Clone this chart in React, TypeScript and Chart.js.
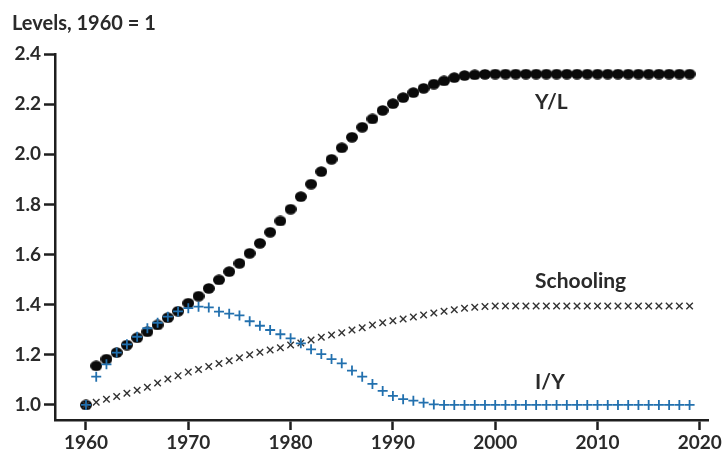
import React, { useEffect, useRef } from "react";
import { Chart, registerables } from "chart.js";

Chart.register(...registerables);

const years = [
  1960, 1961, 1962, 1963, 1964, 1965, 1966, 1967, 1968, 1969,
  1970, 1971, 1972, 1973, 1974, 1975, 1976, 1977, 1978, 1979,
  1980, 1981, 1982, 1983, 1984, 1985, 1986, 1987, 1988, 1989,
  1990, 1991, 1992, 1993, 1994, 1995, 1996, 1997, 1998, 1999,
  2000, 2001, 2002, 2003, 2004, 2005, 2006, 2007, 2008, 2009,
  2010, 2011, 2012, 2013, 2014, 2015, 2016, 2017, 2018, 2019,
];

const outputPerWorker = [
  1.0, 1.156, 1.183, 1.209, 1.239, 1.268, 1.292, 1.319, 1.348, 1.374,
  1.406, 1.434, 1.465, 1.499, 1.532, 1.565, 1.605, 1.645, 1.689, 1.734,
  1.781, 1.831, 1.881, 1.931, 1.98, 2.026, 2.068, 2.108, 2.141, 2.175,
  2.202, 2.226, 2.246, 2.263, 2.28, 2.293, 2.306, 2.314, 2.317, 2.319,
  2.32, 2.32, 2.32, 2.32, 2.32, 2.32, 2.32, 2.32, 2.32, 2.32,
  2.32, 2.32, 2.32, 2.32, 2.32, 2.32, 2.32, 2.32, 2.32, 2.32,
];

const schooling = [
  1.0, 1.011, 1.023, 1.034, 1.047, 1.059, 1.071, 1.088, 1.104, 1.117,
  1.131, 1.141, 1.153, 1.165, 1.176, 1.188, 1.2, 1.21, 1.219, 1.228,
  1.239, 1.247, 1.259, 1.27, 1.279, 1.288, 1.299, 1.308, 1.319, 1.328,
  1.336, 1.343, 1.351, 1.359, 1.367, 1.374, 1.38, 1.386, 1.39, 1.393,
  1.395, 1.395, 1.395, 1.395, 1.395, 1.395, 1.395, 1.395, 1.395, 1.395,
  1.395, 1.395, 1.395, 1.395, 1.395, 1.395, 1.395, 1.395, 1.395, 1.395,
];

const investmentShare = [
  1.0, 1.113, 1.162, 1.209, 1.242, 1.272, 1.306, 1.328, 1.352, 1.373,
  1.386, 1.392, 1.389, 1.372, 1.364, 1.357, 1.334, 1.316, 1.299, 1.282,
  1.266, 1.246, 1.222, 1.203, 1.183, 1.166, 1.137, 1.113, 1.084, 1.056,
  1.036, 1.023, 1.017, 1.009, 1.002, 1.0, 1.0, 1.0, 1.0, 1.0,
  1.0, 1.0, 1.0, 1.0, 1.0, 1.0, 1.0, 1.0, 1.0, 1.0,
  1.0, 1.0, 1.0, 1.0, 1.0, 1.0, 1.0, 1.0, 1.0, 1.0,
];

const seriesNames = ["Y/L", "Schooling", "I/Y"];
const yTickStep = 0.2;
const xTickStep = 10;
const titleText = "Levels, 1960 = 1";

// label anchor positions (data units)
const labelAnchorYear = [2003.9, 2003.9, 2003.9];
const labelAnchorValue = [2.209, 1.495, 1.092];

const FONT = "Lato, 'Open Sans', sans-serif";
const TEXT = "#2a2a2a";
const AXIS = "#1e1e1e";
const BLUE = "#2270ae";

function makeEllipse(): HTMLCanvasElement {
  const c = document.createElement("canvas");
  c.width = 12;
  c.height = 11;
  const ctx = c.getContext("2d")!;
  ctx.fillStyle = "#0a0a0a";
  ctx.beginPath();
  ctx.ellipse(6, 5.5, 6, 5.2, 0, 0, Math.PI * 2);
  ctx.fill();
  return c;
}

export default function App() {
  const ref = useRef<HTMLCanvasElement | null>(null);

  useEffect(() => {
    document.body.style.margin = "0";
    const canvas = ref.current!;
    const dot = makeEllipse();
    const toPts = (arr: number[]) => years.map((x, i) => ({ x, y: arr[i] }));

    const textPlugin = {
      id: "texts",
      afterDraw(chart: any) {
        const ctx = chart.ctx;
        ctx.save();
        ctx.fillStyle = TEXT;
        ctx.textAlign = "left";
        ctx.textBaseline = "alphabetic";
        ctx.font = `bold 20px ${FONT}`;
        ctx.fillText(titleText, 12, 30);
        ctx.font = `bold 21px ${FONT}`;
        ctx.textBaseline = "middle";
        const xs = chart.scales.x;
        const ys = chart.scales.y;
        seriesNames.forEach((name, i) => {
          ctx.fillText(
            name,
            xs.getPixelForValue(labelAnchorYear[i]),
            ys.getPixelForValue(labelAnchorValue[i])
          );
        });
        ctx.restore();
      },
    };

    const chart = new Chart(canvas, {
      type: "scatter",
      data: {
        datasets: [
          {
            label: seriesNames[2],
            data: toPts(investmentShare),
            pointStyle: "cross",
            pointRadius: 5,
            pointBorderWidth: 1.8,
            pointBorderColor: BLUE,
            pointBackgroundColor: BLUE,
            showLine: false,
          },
          {
            label: seriesNames[1],
            data: toPts(schooling),
            pointStyle: "crossRot",
            pointRadius: 4.6,
            pointBorderWidth: 1.4,
            pointBorderColor: "#333333",
            pointBackgroundColor: "#333333",
            showLine: false,
          },
          {
            label: seriesNames[0],
            data: toPts(outputPerWorker),
            pointStyle: dot as any,
            pointRadius: 6,
            showLine: false,
          },
        ],
      },
      plugins: [textPlugin],
      options: {
        animation: false,
        responsive: false,
        devicePixelRatio: 1,
        layout: { padding: { top: 54, right: 17, left: 0, bottom: 0 } },
        plugins: {
          legend: { display: false },
          tooltip: { enabled: false },
          title: { display: false },
        },
        scales: {
          x: {
            type: "linear",
            min: 1956.97,
            max: 2020.8,
            border: { display: true, color: AXIS, width: 2.5 },
            grid: {
              display: true,
              drawOnChartArea: false,
              drawTicks: true,
              tickLength: 10,
              tickWidth: 2.5,
              tickColor: AXIS,
            },
            ticks: {
              stepSize: xTickStep,
              includeBounds: false,
              autoSkip: false,
              maxRotation: 0,
              padding: 1,
              color: TEXT,
              font: { family: FONT, size: 19, weight: "bold" },
              callback: (v: any) => String(v),
            },
            afterFit: (s: any) => {
              s.height = 33;
            },
          },
          y: {
            type: "linear",
            min: 0.94,
            max: 2.4,
            border: { display: true, color: AXIS, width: 2.5 },
            grid: {
              display: true,
              drawOnChartArea: false,
              drawTicks: true,
              tickLength: 11,
              tickWidth: 2.5,
              tickColor: AXIS,
            },
            ticks: {
              stepSize: yTickStep,
              includeBounds: false,
              padding: 3,
              color: TEXT,
              font: { family: FONT, size: 19, weight: "bold" },
              callback: (v: any) => Number(v).toFixed(1),
            },
            afterFit: (s: any) => {
              s.width = 55;
            },
          },
        },
      },
    } as any);

    return () => chart.destroy();
  }, []);

  return (
    <div style={{ position: "absolute", left: 0, top: 0, width: 725, height: 453 }}>
      <canvas ref={ref} width={725} height={453} style={{ width: 725, height: 453 }} />
    </div>
  );
}
